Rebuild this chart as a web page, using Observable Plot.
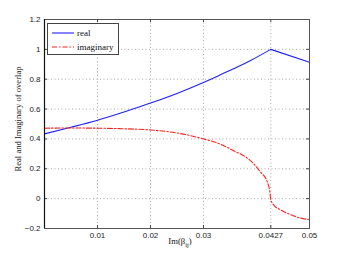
<!DOCTYPE html>
<html>
<head>
<meta charset="utf-8">
<script src="https://cdn.jsdelivr.net/npm/d3@7"></script>
<script src="https://cdn.jsdelivr.net/npm/@observablehq/plot@0.6"></script>
<style>
  html, body { margin: 0; padding: 0; background: #fff; }
  #wrap { position: relative; width: 342px; height: 258px; }
  #legend { position: absolute; left: 47px; top: 23px; width: 72px; height: 32px;
    border: 1px solid #444; background: #fff; font-family: "Liberation Serif", serif; font-size: 9px; box-sizing: border-box; color: #111; }
  #legend .row { position: absolute; left: 0; height: 12px; display: flex; align-items: center; }
  #legend svg { margin-left: 4px; margin-right: 3px; }
</style>
</head>
<body>
<div id="wrap"></div>
<script>
const realX = [0, 0.005, 0.01, 0.015, 0.02, 0.025, 0.03, 0.0331, 0.0388, 0.0427, 0.05];
const realY = [0.434, 0.478, 0.525, 0.58, 0.64, 0.705, 0.778, 0.828, 0.924, 1.0, 0.913];
const imagX = [0, 0.005, 0.01, 0.015, 0.02, 0.025, 0.03, 0.0331, 0.036, 0.0379, 0.0394, 0.0407, 0.042, 0.0425, 0.0427, 0.0432, 0.0445, 0.0464, 0.0483, 0.05];
const imagY = [0.472, 0.473, 0.472, 0.468, 0.46, 0.44, 0.40, 0.366, 0.315, 0.281, 0.236, 0.18, 0.116, 0.05, -0.007, -0.04, -0.074, -0.107, -0.13, -0.141];
const xTicks = [0.01, 0.02, 0.03, 0.0427, 0.05];
const yTicks = [-0.2, 0, 0.2, 0.4, 0.6, 0.8, 1, 1.2];
const seriesNames = ["real", "imaginary"];
const seriesColors = ["#1f1fff", "#ff1f1f"];
const peakX = 0.0427;

// real curve split at its kink so each side is smooth
const realData = [];
realX.forEach((x, i) => {
  if (x <= peakX) realData.push({x, y: realY[i], seg: "rise"});
  if (x >= peakX) realData.push({x, y: realY[i], seg: "fall"});
});
const imagData = imagX.map((x, i) => ({x, y: imagY[i]}));
const xDom = [0, 0.05], yDom = [-0.2, 1.2];
const tickLenX = 0.05 * 3 / 265, tickLenY = 1.4 * 3 / 209;
const grid = {stroke: "#aaa", strokeDasharray: "1,2.5", strokeWidth: 1};
const tickStyle = {stroke: "#444", strokeWidth: 1};

const chart = Plot.plot({
  width: 342, height: 258,
  marginLeft: 44, marginRight: 33, marginTop: 19, marginBottom: 30,
  x: {domain: xDom},
  y: {domain: yDom},
  style: {fontFamily: "Liberation Sans, sans-serif", fontSize: "8px", background: "#fff"},
  marks: [
    Plot.ruleX(xTicks.filter(t => t < 0.05), {...grid}),
    Plot.ruleY(yTicks.filter(t => t > -0.2 && t < 1.2), {...grid}),
    Plot.axisX(xTicks, {tickSize: 0, tickPadding: 4, tickFormat: d => String(d), label: null, fontSize: 8, fill: "#222"}),
    Plot.axisY(yTicks, {tickSize: 0, tickPadding: 4, tickFormat: d => d < 0 ? "\u22120.2" : String(d), label: null, fontSize: 8, fill: "#222"}),
    Plot.ruleX(xTicks, {y1: -0.2, y2: -0.2 + tickLenY, ...tickStyle}),
    Plot.ruleX(xTicks, {y1: 1.2, y2: 1.2 - tickLenY, ...tickStyle}),
    Plot.ruleY(yTicks, {x1: 0, x2: tickLenX, ...tickStyle}),
    Plot.ruleY(yTicks, {x1: 0.05, x2: 0.05 - tickLenX, ...tickStyle}),
    Plot.line(realData, {x: "x", y: "y", z: "seg", stroke: seriesColors[0], strokeWidth: 1.1, curve: "monotone-x"}),
    Plot.line(imagData, {x: "x", y: "y", stroke: seriesColors[1], strokeWidth: 1.1, strokeDasharray: "5,2,1.5,2", curve: "monotone-x"}),
    Plot.frame({stroke: "#555", strokeWidth: 1}),
    Plot.ruleX([0], {stroke: "#111", strokeWidth: 1.2}),
    Plot.text(["Real and Imaginary of overlap"], {frameAnchor: "left", textAnchor: "middle", rotate: -90, dx: -26, dy: -5,
      fontFamily: "Liberation Serif, serif", fontSize: 8.6, fill: "#111"}),
    Plot.text(["Im(\u03b2ij)"], {frameAnchor: "bottom", dy: 9, dx: 3, lineAnchor: "top",
      fontFamily: "Liberation Serif, serif", fontSize: 8.6, fill: "#111", className: "xlabel"})
  ]
});
document.getElementById("wrap").appendChild(chart);

// subscript for x label
const xl = chart.querySelector(".xlabel text");
if (xl) {
  xl.textContent = "";
  const ns = "http://www.w3.org/2000/svg";
  const a = document.createElementNS(ns, "tspan"); a.textContent = "Im(\u03b2";
  const b = document.createElementNS(ns, "tspan"); b.textContent = "ij"; b.setAttribute("dy", "3"); b.setAttribute("font-size", "6.5");
  const c = document.createElementNS(ns, "tspan"); c.textContent = ")"; c.setAttribute("dy", "-3");
  xl.append(a, b, c);
}

// legend
const lg = document.createElement("div");
lg.id = "legend";
seriesNames.forEach((n, i) => {
  const row = document.createElement("div");
  row.className = "row";
  row.style.top = (i === 0 ? 3 : 16.5) + "px";
  const dash = i === 1 ? 'stroke-dasharray="5,2,1.5,2"' : "";
  row.innerHTML = `<svg width="22" height="4"><line x1="0" y1="2" x2="22" y2="2" stroke="${seriesColors[i]}" stroke-width="1.1" ${dash}/></svg><span>${n}</span>`;
  lg.appendChild(row);
});
document.getElementById("wrap").appendChild(lg);
</script>
</body>
</html>
